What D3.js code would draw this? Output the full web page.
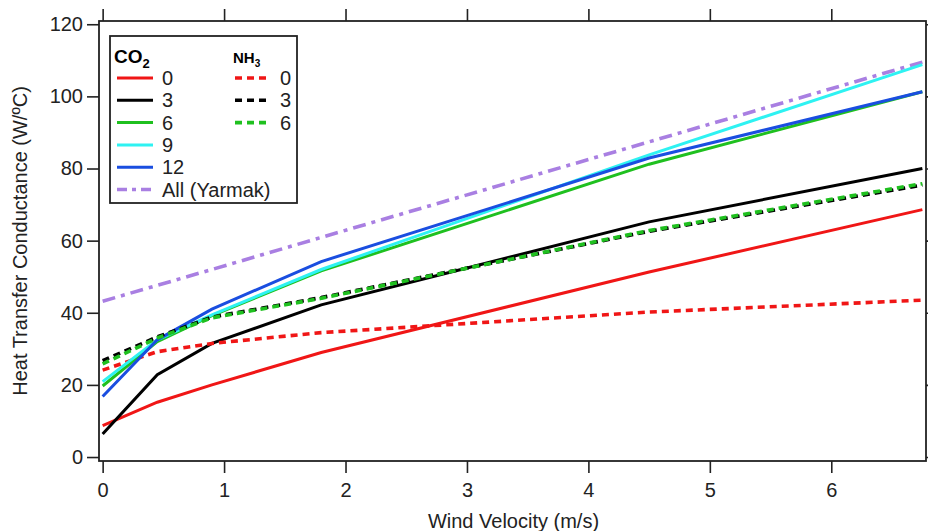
<!DOCTYPE html>
<html>
<head>
<meta charset="utf-8">
<script src="https://cdn.jsdelivr.net/npm/d3@7"></script>
<style>
  body { margin: 0; background: #fff; }
  svg { display: block; font-family: "Liberation Sans", Arial, sans-serif; }
  .axis text { font-size: 20px; fill: #222; }
  .axis line { stroke: #222; stroke-width: 1.6; }
  .axis path { display: none; }
</style>
</head>
<body>
<div id="chart"></div>
<script>
// wind velocity (m/s) where each curve was evaluated
const windSpeed = [0, 0.45, 0.9, 1.8, 4.5, 6.75];

// CO2 curves (heat transfer conductance, W/ºC)
const co2_0  = [8.7, 15.2, 20.0, 29.0, 51.3, 68.6];
const co2_3  = [6.4, 22.8, 31.5, 42.2, 65.2, 80.0];
const co2_6  = [19.7, 32.0, 39.2, 51.6, 81.2, 101.3];
const co2_9  = [20.9, 32.5, 39.4, 52.0, 83.8, 108.8];
const co2_12 = [16.8, 32.5, 41.0, 54.2, 82.9, 101.3];

// NH3 curves
const nh3_0 = [24.1, 29.2, 31.5, 34.5, 40.2, 43.5];
const nh3_3 = [26.7, 33.3, 38.8, 44.2, 62.6, 75.4];
const nh3_6 = [25.8, 33.0, 38.6, 44.0, 62.8, 75.8];

// Yarmak correlation (all)
const yarmak = [43.2, 47.6, 52.0, 60.9, 87.4, 109.5];

const xTicks = [0, 1, 2, 3, 4, 5, 6];
const yTicks = [0, 20, 40, 60, 80, 100, 120];

const width = 928, height = 531;
const plot = { left: 99, right: 926, top: 21, bottom: 461 };

const svg = d3.select("#chart")
  .append("svg")
  .attr("width", width)
  .attr("height", height);

const x = d3.scaleLinear()
  .domain([-0.03, 6.78])
  .range([plot.left, plot.right]);

const y = d3.scaleLinear()
  .domain([-1.1, 120.9])
  .range([plot.bottom, plot.top]);

// axes: ticks on all four sides, labels only left and bottom
svg.append("g")
  .attr("class", "axis")
  .attr("transform", `translate(${plot.left},0)`)
  .call(d3.axisLeft(y).tickValues(yTicks).tickSize(12).tickPadding(4).tickFormat(d3.format("d")));

svg.append("g")
  .attr("class", "axis")
  .attr("transform", `translate(0,${plot.bottom})`)
  .call(d3.axisBottom(x).tickValues(xTicks).tickSize(12).tickPadding(10).tickFormat(d3.format("d")));

svg.append("g")
  .attr("class", "axis")
  .attr("transform", `translate(0,${plot.top})`)
  .call(d3.axisTop(x).tickValues(xTicks).tickSize(12).tickFormat(""));

svg.append("g")
  .attr("class", "axis")
  .attr("transform", `translate(${plot.right},0)`)
  .call(d3.axisRight(y).tickValues(yTicks).tickSize(12).tickFormat(""));

// axis titles
svg.append("text")
  .attr("x", (plot.left + plot.right) / 2 + 1)
  .attr("y", 528)
  .attr("text-anchor", "middle")
  .style("font-size", "20px")
  .style("fill", "#222")
  .text("Wind Velocity (m/s)");

svg.append("text")
  .attr("transform", "rotate(-90)")
  .attr("x", -241)
  .attr("y", 27)
  .attr("text-anchor", "middle")
  .style("font-size", "20px")
  .style("fill", "#222")
  .text("Heat Transfer Conductance (W/ºC)");

const series = [
  { name: "co2_0", values: co2_0, color: "#f01616", dash: null },
  { name: "co2_3", values: co2_3, color: "#000000", dash: null },
  { name: "nh3_0", values: nh3_0, color: "#f01616", dash: "7,5" },
  { name: "yarmak", values: yarmak, color: "#a97fe2", dash: "13,6,4,6" },
  { name: "co2_6", values: co2_6, color: "#1fc01f", dash: null },
  { name: "co2_9", values: co2_9, color: "#2ef2f2", dash: null },
  { name: "co2_12", values: co2_12, color: "#1a4ee0", dash: null },
  { name: "nh3_3", values: nh3_3, color: "#000000", dash: "7,5" },
  { name: "nh3_6", values: nh3_6, color: "#1fc01f", dash: "7,5" }
];

const line = d3.line()
  .x((d, i) => x(windSpeed[i]))
  .y(d => y(d));

svg.append("g")
  .selectAll("path")
  .data(series)
  .join("path")
  .attr("d", d => line(d.values))
  .attr("fill", "none")
  .attr("stroke", d => d.color)
  .attr("stroke-width", d => d.dash ? 3.6 : 3)
  .attr("stroke-dasharray", d => d.dash);

// frame
svg.append("rect")
  .attr("x", plot.left)
  .attr("y", plot.top)
  .attr("width", plot.right - plot.left)
  .attr("height", plot.bottom - plot.top)
  .attr("fill", "none")
  .attr("stroke", "#222")
  .attr("stroke-width", 1.8);

// Legend
const legend = svg.append("g");
legend.append("rect")
  .attr("x", 110).attr("y", 36)
  .attr("width", 187).attr("height", 167)
  .attr("fill", "#fff")
  .attr("stroke", "#222")
  .attr("stroke-width", 1.8);

const co2Head = legend.append("text")
  .attr("x", 114).attr("y", 63)
  .style("font-size", "19px").style("font-weight", "bold");
co2Head.append("tspan").text("CO");
co2Head.append("tspan").attr("dy", 5).style("font-size", "13px").text("2");

const nh3Head = legend.append("text")
  .attr("x", 233).attr("y", 63)
  .style("font-size", "15px").style("font-weight", "bold");
nh3Head.append("tspan").text("NH");
nh3Head.append("tspan").attr("dy", 4).style("font-size", "10px").text("3");

const co2Legend = [
  { label: "0", color: "#f01616", dash: null },
  { label: "3", color: "#000000", dash: null },
  { label: "6", color: "#1fc01f", dash: null },
  { label: "9", color: "#2ef2f2", dash: null },
  { label: "12", color: "#1a4ee0", dash: null },
  { label: "All (Yarmak)", color: "#a97fe2", dash: "10,5,4,5" }
];
const nh3Legend = [
  { label: "0", color: "#f01616" },
  { label: "3", color: "#000000" },
  { label: "6", color: "#1fc01f" }
];

co2Legend.forEach((d, i) => {
  const yy = 78 + i * 22.3;
  legend.append("line")
    .attr("x1", 117).attr("x2", 153)
    .attr("y1", yy).attr("y2", yy)
    .attr("stroke", d.color)
    .attr("stroke-width", d.dash ? 3.6 : 3)
    .attr("stroke-dasharray", d.dash);
  legend.append("text")
    .attr("x", 162).attr("y", yy + 7)
    .style("font-size", "20px").style("fill", "#222")
    .text(d.label);
});

nh3Legend.forEach((d, i) => {
  const yy = 78 + i * 22.3;
  legend.append("line")
    .attr("x1", 235).attr("x2", 269)
    .attr("y1", yy).attr("y2", yy)
    .attr("stroke", d.color)
    .attr("stroke-width", 3.6)
    .attr("stroke-dasharray", "7,5");
  legend.append("text")
    .attr("x", 280).attr("y", yy + 7)
    .style("font-size", "20px").style("fill", "#222")
    .text(d.label);
});
</script>
</body>
</html>
